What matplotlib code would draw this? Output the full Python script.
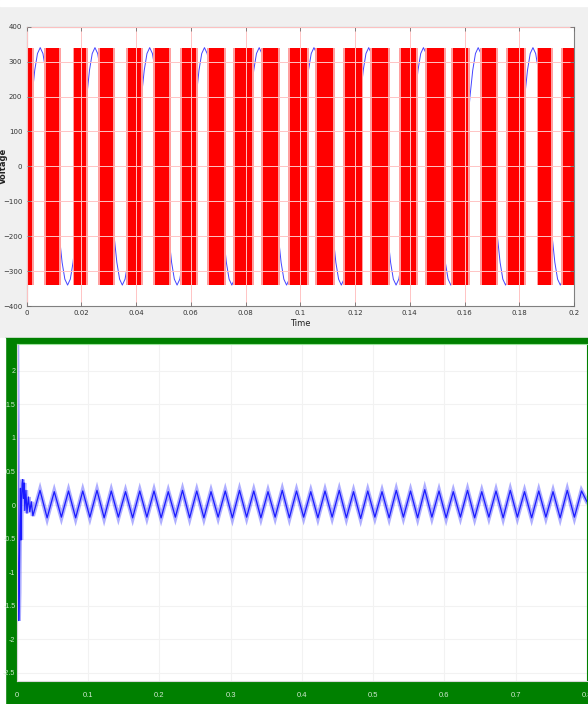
import matplotlib.pyplot as plt
from matplotlib.patches import Rectangle
import numpy as np

# ---- top plot: inverter PWM output and sine reference ----
pwm_on_start = [0.0, 0.0071, 0.0175, 0.0268, 0.0372, 0.0469, 0.0567, 0.0668, 0.0762, 0.0865,
                0.0963, 0.1060, 0.1163, 0.1261, 0.1368, 0.1462, 0.1559, 0.1663, 0.1760, 0.1870,
                0.1961]
pwm_on_end = [0.0021, 0.0120, 0.0216, 0.0315, 0.0417, 0.0521, 0.0619, 0.0723, 0.0823, 0.0920,
              0.1026, 0.1121, 0.1224, 0.1322, 0.1423, 0.1526, 0.1614, 0.1714, 0.1818, 0.1916,
              0.2]
v_dc = 340

# one cycle of the reference sine, read every 1 ms; all 10 cycles look the same
sine_step = 0.001
sine_cycle = [0, 105, 200, 275, 323, 340, 323, 275, 200, 105,
              0, -105, -200, -275, -323, -340, -323, -275, -200, -105]
n_cycles = 10

top_xticks = [0, 0.02, 0.04, 0.06, 0.08, 0.1, 0.12, 0.14, 0.16, 0.18, 0.2]
top_xlabels = ["0", "0.02", "0.04", "0.06", "0.08", "0.1", "0.12", "0.14", "0.16", "0.18", "0.2"]
top_yticks = [-400, -300, -200, -100, 0, 100, 200, 300, 400]

# ---- bottom plot: current with start-up transient ----
start_t = [0.0, 0.0008, 0.0016, 0.0024, 0.0032, 0.0040, 0.0048, 0.0056, 0.0064, 0.0072,
           0.0080, 0.0090, 0.0100, 0.0110, 0.0125, 0.0140, 0.0160, 0.0180, 0.0200]
start_v = [2.45, 1.2, -0.6, -1.72, -1.3, -0.3, 0.25, -0.52, 0.05, 0.32,
           0.38, 0.1, 0.33, -0.08, 0.22, -0.12, 0.12, -0.1, 0.05]

first_trough = 0.0223
first_peak = 0.0323
period = 0.02
peaks = [0.22, 0.20, 0.21, 0.21, 0.22, 0.21, 0.20, 0.21, 0.21, 0.20,
         0.22, 0.21, 0.20, 0.21, 0.22, 0.21, 0.20, 0.22, 0.21, 0.20,
         0.21, 0.22, 0.20, 0.21, 0.20, 0.22, 0.21, 0.23, 0.21, 0.20,
         0.22, 0.20, 0.21, 0.22, 0.20, 0.21, 0.20, 0.22, 0.21]
troughs = [-0.16, -0.19, -0.18, -0.19, -0.18, -0.19, -0.18, -0.19, -0.18, -0.19,
           -0.18, -0.19, -0.19, -0.18, -0.19, -0.18, -0.19, -0.18, -0.19, -0.18,
           -0.19, -0.18, -0.19, -0.20, -0.18, -0.19, -0.18, -0.19, -0.18, -0.19,
           -0.18, -0.19, -0.18, -0.19, -0.18, -0.19, -0.18, -0.19, -0.18]
end_v = 0.05

bot_xticks = [0, 0.1, 0.2, 0.3, 0.4, 0.5, 0.6, 0.7, 0.8]
bot_xlabels = ["0", "0.1", "0.2", "0.3", "0.4", "0.5", "0.6", "0.7", "0.8"]
bot_yticks = [-2.5, -2, -1.5, -1, -0.5, 0, 0.5, 1, 1.5, 2]
bot_ylabels = ["-2.5", "-2", "-1.5", "-1", "-0.5", "0", "0.5", "1", "1.5", "2"]

fig = plt.figure(figsize=(5.88, 7.04), dpi=100, facecolor="#f0f0f0")
fig.patches.append(Rectangle((0, 0.9915), 1, 0.0085, transform=fig.transFigure,
                             color="white", zorder=-10))
fig.patches.append(Rectangle((0.0085, 0), 0.9915, 0.5199, transform=fig.transFigure,
                             color="#008000", zorder=-10))
fig.patches.append(Rectangle((0, 0), 0.0085, 0.5199, transform=fig.transFigure,
                             color="white", zorder=-10))

# top axes
ax1 = fig.add_axes([0.0451, 0.5653, 0.9311, 0.3968])
sine_t = np.arange(len(sine_cycle) * n_cycles + 1) * sine_step
sine_v = np.append(np.tile(sine_cycle, n_cycles), sine_cycle[0])
ax1.plot(sine_t, sine_v, color="#4444ff", lw=0.7, zorder=1)
halo = 0.0007
for s, e in zip(pwm_on_start, pwm_on_end):
    ax1.fill_between([s - halo, e + halo], -v_dc, v_dc, color="#ffa0a0", lw=0, zorder=2)
    ax1.fill_between([s, e], -v_dc, v_dc, color="#ff0000", lw=0, zorder=2)
ax1.set_xlim(0, 0.2)
ax1.set_ylim(-400, 400)
ax1.set_xticks(top_xticks)
ax1.set_xticklabels(top_xlabels)
ax1.set_yticks(top_yticks)
ax1.grid(True, color="#ffc4c4", lw=0.7, zorder=3)
ax1.set_axisbelow(False)
ax1.tick_params(direction="in", length=3, width=0.6, color="#707070", labelsize=5,
                labelcolor="#333333", top=True, right=True, pad=3)
for sp in ax1.spines.values():
    sp.set_color("#808080")
    sp.set_linewidth(0.8)
ax1.set_xlabel("Time", fontsize=6, color="#222222", labelpad=2)
ax1.set_ylabel("Voltage", fontsize=6, color="#222222", fontweight="bold")
ax1.yaxis.set_label_coords(-0.034, 0.5)

# bottom axes
ax2 = fig.add_axes([0.0289, 0.0327, 0.9694, 0.4787])
bx = list(start_t)
by = list(start_v)
for k in range(len(peaks)):
    bx += [first_trough + k * period, first_peak + k * period]
    by += [troughs[k], peaks[k]]
bx.append(0.8)
by.append(end_v)
ax2.plot(bx, by, color="#4b4bff", lw=3.2, alpha=0.45, solid_joinstyle="miter")
ax2.plot(bx, by, color="#1a1aff", lw=0.9)
ax2.set_xlim(0, 0.8)
ax2.set_ylim(-2.62, 2.4)
ax2.set_xticks(bot_xticks)
ax2.set_xticklabels(bot_xlabels)
ax2.set_yticks(bot_yticks)
ax2.set_yticklabels(bot_ylabels)
ax2.grid(True, color="#f2f2f2", lw=0.8)
ax2.set_axisbelow(True)
ax2.tick_params(axis="x", length=0, labelsize=5.5, labelcolor="#cfe8cf", pad=8)
ax2.tick_params(axis="y", length=0, labelsize=5, labelcolor="#cfe8cf", pad=1.2)
for lab in ax2.get_xticklabels() + ax2.get_yticklabels():
    lab.set_family(["Liberation Sans Narrow", "Liberation Sans", "DejaVu Sans"])
ax2.spines["top"].set_color("#9be39b")
ax2.spines["left"].set_color("#d8d8d8")
ax2.spines["bottom"].set_color("#d8d8d8")
ax2.spines["right"].set_color("#008000")
for sp in ax2.spines.values():
    sp.set_linewidth(0.8)

fig.savefig("out.png", dpi=100, facecolor=fig.get_facecolor())
